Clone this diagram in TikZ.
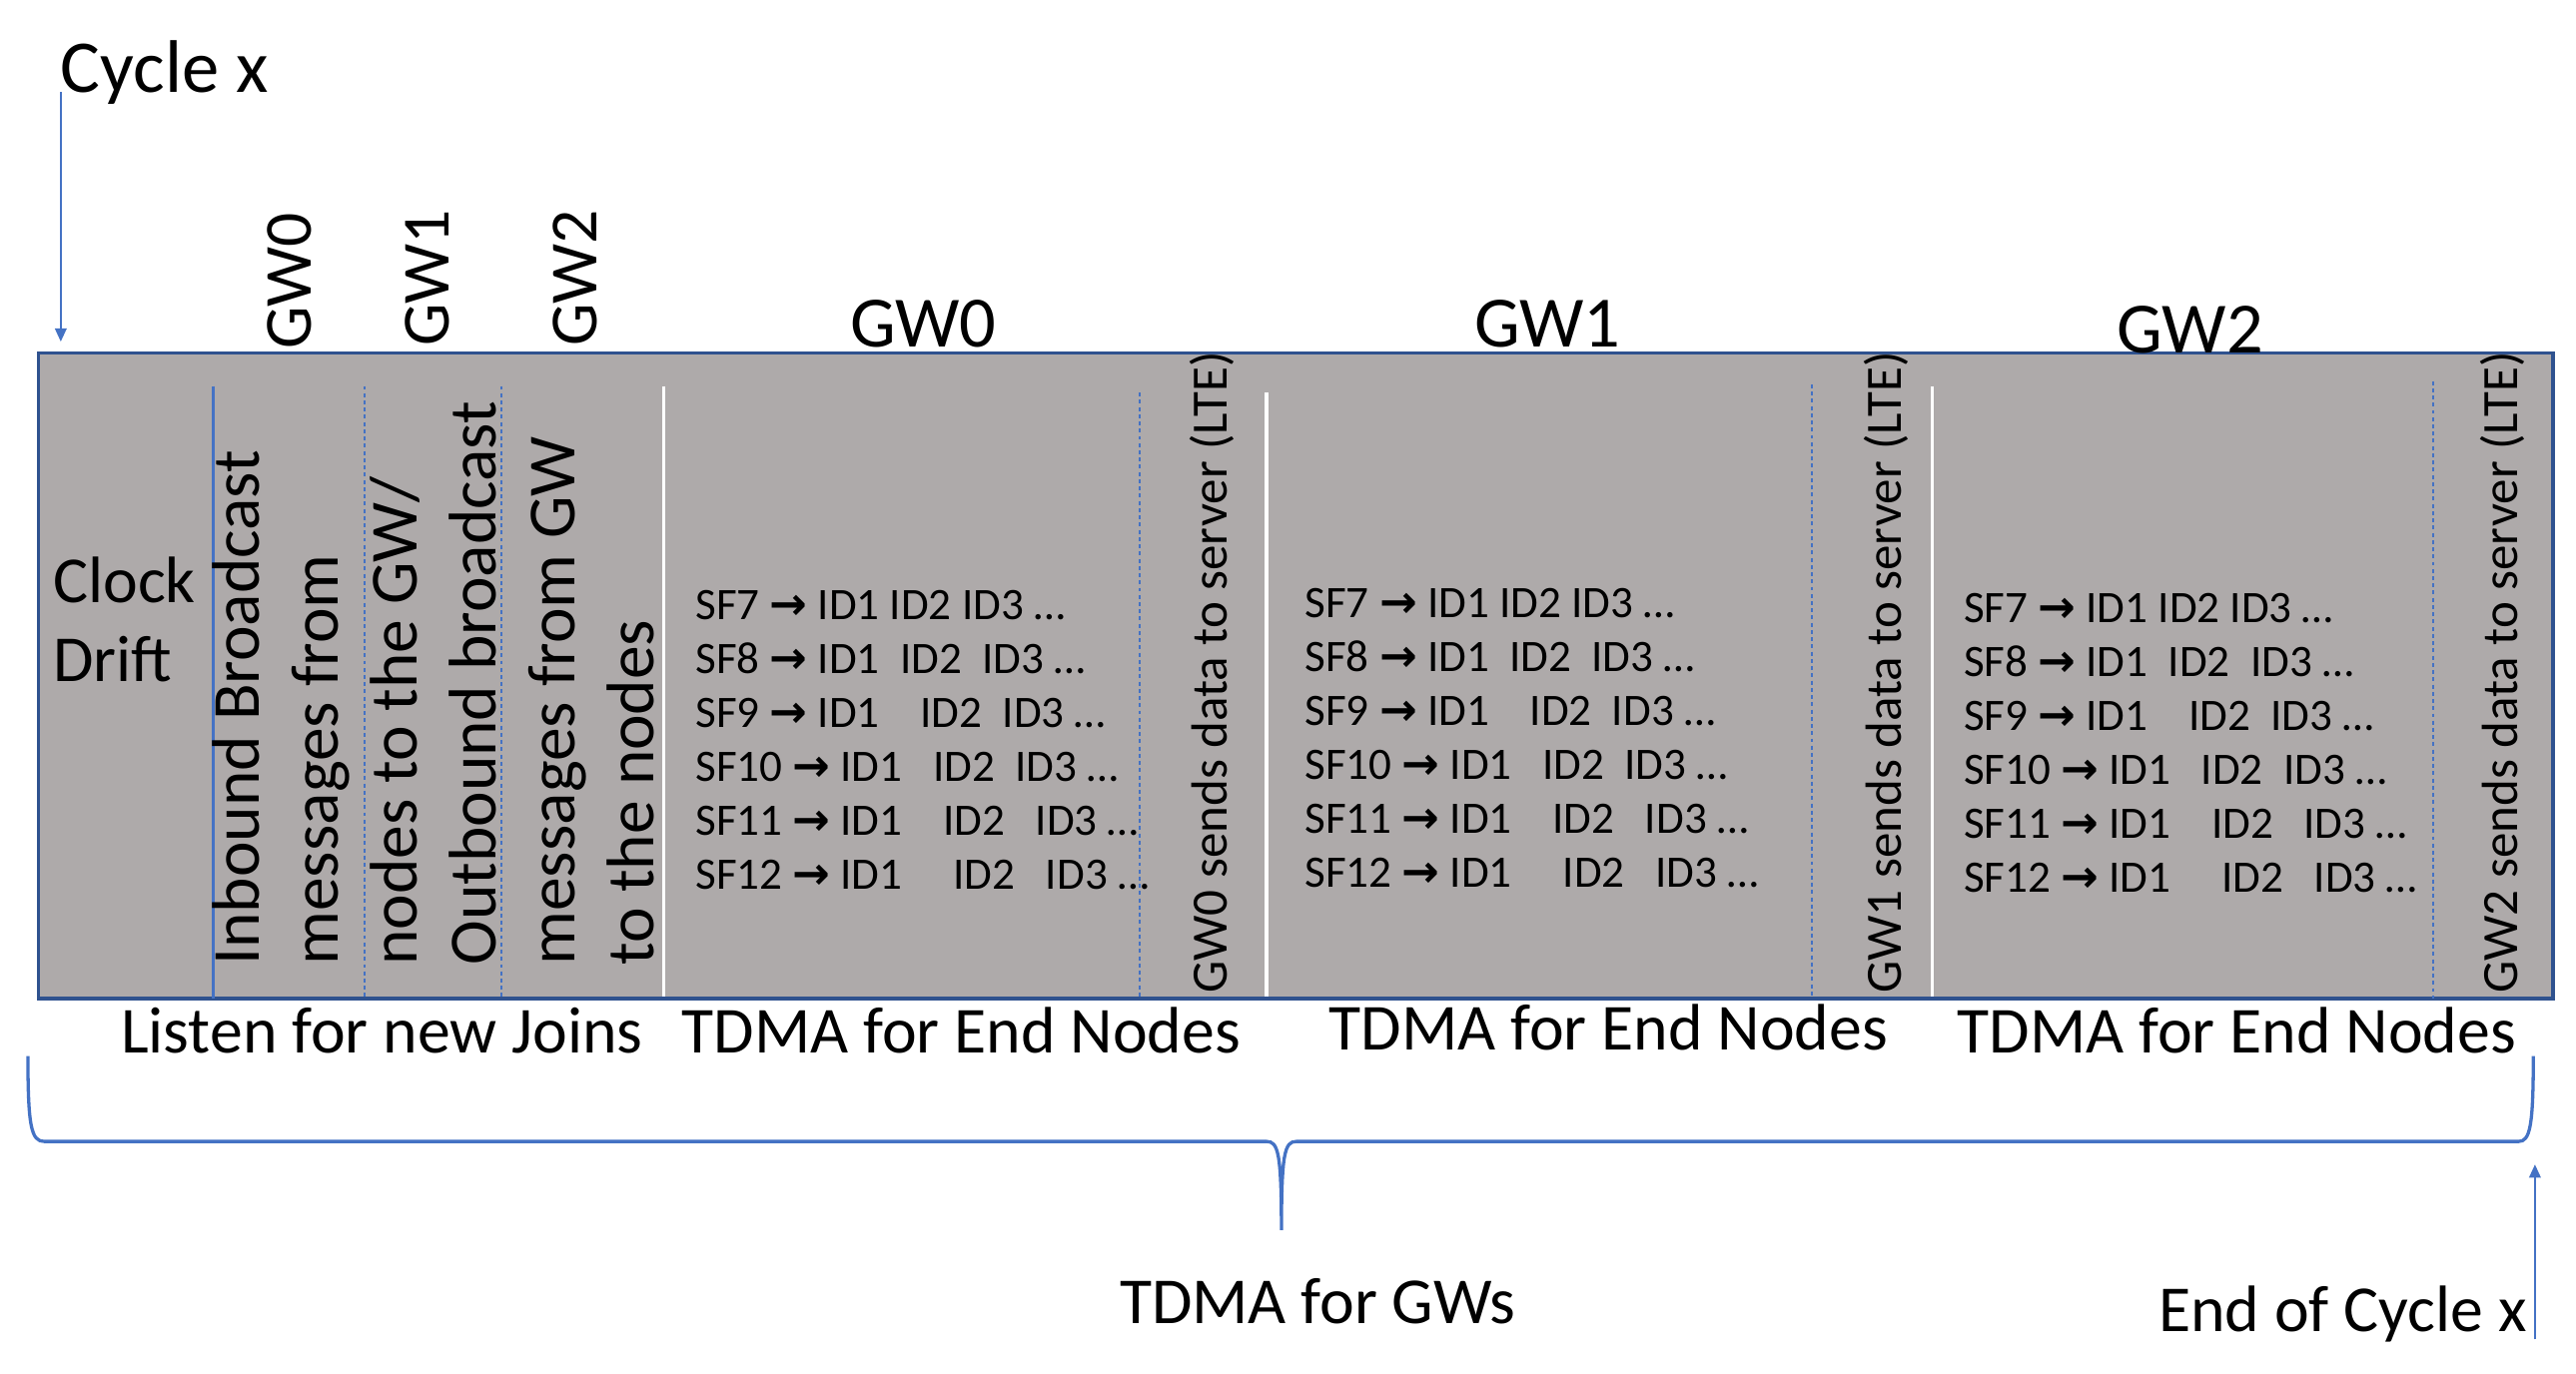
\documentclass[tikz,border=0pt]{standalone}
\usepackage{fontspec}
\setmainfont{Carlito}
\newfontfamily\arrowfont{DejaVu Sans}
\usetikzlibrary{arrows.meta}

\definecolor{slotgray}{HTML}{AEAAAA}
\definecolor{frameblue}{HTML}{2F528F}
\definecolor{lineblue}{HTML}{4472C4}

\newcommand{\sfarrow}{{\arrowfont\bfseries →}}

\begin{document}
\begin{tikzpicture}[
    x=0.5pt, y=-0.5pt,
    lbl/.style={inner sep=0, font=\fontsize{20}{24}\selectfont},
    vlbl/.style={inner sep=0, rotate=90, align=left, font=\fontsize{20.5}{24}\selectfont},
    gwlbl/.style={inner sep=0, anchor=base, font=\fontsize{22}{26}\selectfont},
    sflist/.style={inner sep=0, anchor=north west, align=left, font=\fontsize{13.7}{16.4}\selectfont},
    lte/.style={inner sep=0, anchor=west, rotate=90, font=\fontsize{15.5}{18}\selectfont},
    frame/.style={draw=frameblue, fill=slotgray, line width=1pt},
    solidsep/.style={draw=lineblue, line width=0.9pt},
    dotsep/.style={draw=lineblue, line width=0.6pt, dash pattern=on 1.2pt off 1pt},
    whitesep/.style={draw=white, line width=1pt},
    flow/.style={draw=lineblue, line width=0.6pt, -{Triangle[length=4pt,width=3.5pt]}},
    brace/.style={draw=lineblue, line width=1pt}
]
\useasboundingbox (0,0) rectangle (1568,836);

% cycle frame
\draw[frame] (23.5,215) rectangle (1554,608);

% slot separators
\draw[solidsep] (130,235) -- (130,608);
\draw[dotsep] (222,235) -- (222,608);
\draw[dotsep] (305,235) -- (305,608);
\draw[whitesep] (404,235) -- (404,607);
\draw[dotsep] (694,239) -- (694,608);
\draw[whitesep] (771,239) -- (771,607);
\draw[dotsep] (1103,234) -- (1103,608);
\draw[whitesep] (1176,235) -- (1176,607);
\draw[dotsep] (1481,232) -- (1481,608);

% labels above the frame
\node[lbl, anchor=base west, font=\fontsize{22.7}{27}\selectfont] (cyc) at (36.6,56) {Cycle x};
\node[vlbl, anchor=west] (gw0v) at (176,213) {GW0};
\node[vlbl, anchor=west] (gw1v) at (260,211) {GW1};
\node[vlbl, anchor=west] (gw2v) at (350,211) {GW2};
\node[gwlbl] (gw0) at (562,211) {GW0};
\node[gwlbl] (gw1) at (942,211) {GW1};
\node[gwlbl] (gw2) at (1333,215) {GW2};

% join slot
\node[lbl, align=left, anchor=north west] (clock) at (32,339) {Clock\\Drift};
\node[vlbl, anchor=north west] (inbound) at (129,588) {Inbound Broadcast\\messages from\\nodes to the GW/};
\node[vlbl, anchor=north west] (outbound) at (273,588) {Outbound broadcast\\messages from GW\\to the nodes};

% end node slots
\node[sflist] (sf0) at (423,359) {
    SF7 \sfarrow{} ID1 ID2 ID3 …\\
    SF8 \sfarrow{} ID1~~ID2~~ID3 …\\
    SF9 \sfarrow{} ID1~~~~ID2~~ID3 …\\
    SF10 \sfarrow{} ID1~~~ID2~~ID3 …\\
    SF11 \sfarrow{} ID1~~~~ID2~~~ID3 …\\
    SF12 \sfarrow{} ID1~~~~~ID2~~~ID3 …};
\node[sflist] (sf1) at (794,358) {
    SF7 \sfarrow{} ID1 ID2 ID3 …\\
    SF8 \sfarrow{} ID1~~ID2~~ID3 …\\
    SF9 \sfarrow{} ID1~~~~ID2~~ID3 …\\
    SF10 \sfarrow{} ID1~~~ID2~~ID3 …\\
    SF11 \sfarrow{} ID1~~~~ID2~~~ID3 …\\
    SF12 \sfarrow{} ID1~~~~~ID2~~~ID3 …};
\node[sflist] (sf2) at (1195,361) {
    SF7 \sfarrow{} ID1 ID2 ID3 …\\
    SF8 \sfarrow{} ID1~~ID2~~ID3 …\\
    SF9 \sfarrow{} ID1~~~~ID2~~ID3 …\\
    SF10 \sfarrow{} ID1~~~ID2~~ID3 …\\
    SF11 \sfarrow{} ID1~~~~ID2~~~ID3 …\\
    SF12 \sfarrow{} ID1~~~~~ID2~~~ID3 …};

% LTE uplink slots
\node[lte] (lte0) at (738,605) {GW0 sends data to server (LTE)};
\node[lte] (lte1) at (1148,605) {GW1 sends data to server (LTE)};
\node[lte] (lte2) at (1523,605) {GW2 sends data to server (LTE)};

% labels under the frame
\node[lbl, anchor=base] (listen) at (232.5,641) {Listen for new Joins};
\node[lbl, anchor=base] (tdma0) at (585,641) {TDMA for End Nodes};
\node[lbl, anchor=base] (tdma1) at (979,639.5) {TDMA for End Nodes};
\node[lbl, anchor=base] (tdma2) at (1361.5,641) {TDMA for End Nodes};

% brace over the whole cycle
\draw[brace] (17,643) .. controls (17,686) and (19,695) .. (27,695)
    -- (771,695) .. controls (778,695) and (780,702) .. (780,749)
    .. controls (780,702) and (782,695) .. (789,695)
    -- (1533,695) .. controls (1540,695) and (1542,686) .. (1542,643);
\node[lbl, anchor=base] (tdmagw) at (802,806) {TDMA for GWs};
\node[lbl, anchor=base] (eoc) at (1426,810.5) {End of Cycle x};

% start and end markers
\coordinate (cyctip) at (37,208);
\coordinate (eoctip) at (1543,709);
\draw[flow] (cyc.base west -| cyctip) -- (cyctip);
\draw[flow] ([yshift=-2.5pt]eoc.base east -| eoctip) -- (eoctip);
\end{tikzpicture}
\end{document}
